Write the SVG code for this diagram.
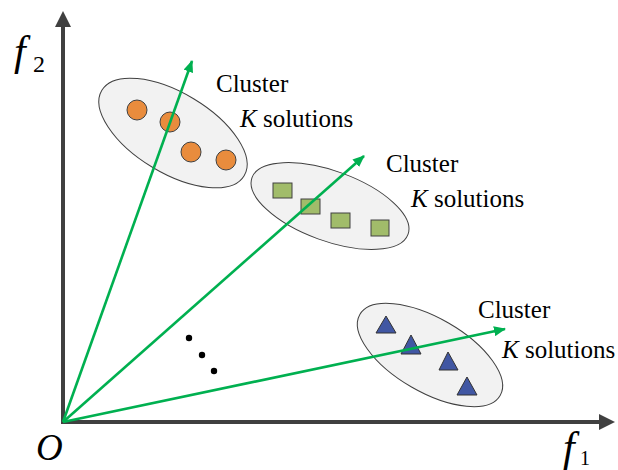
<svg xmlns="http://www.w3.org/2000/svg" width="618" height="470" viewBox="0 0 618 470">
<style>
.ax{stroke:#404040;stroke-width:4;fill:none}
.axh{fill:#404040}
.g{stroke:#00B050;stroke-width:2.6;fill:none}
.ell{fill:#F2F2F2;stroke:#404040;stroke-width:1}
.c{fill:#E98C3D;stroke:#404040;stroke-width:1}
.s{fill:#A1BC6A;stroke:#404040;stroke-width:1}
.t{fill:#4157A3;stroke:#333;stroke-width:1}
text{font-family:'Liberation Serif','Times New Roman','DejaVu Serif',serif;fill:#000}
.lbl{font-size:25px}
.it{font-style:italic}
</style>
<defs>
<marker id="ga" markerWidth="12" markerHeight="10" refX="11" refY="5" orient="auto" markerUnits="userSpaceOnUse">
<path d="M0,0 L12,5 L0,10 Z" fill="#00B050"/>
</marker>
</defs>
<g id="axes">
<line class="ax" x1="63" y1="424" x2="63" y2="24"/>
<path class="axh" d="M63,11 L71,27 L55,27 Z"/>
<line class="ax" x1="61" y1="422" x2="602" y2="422"/>
<path class="axh" d="M615,422 L599,414 L599,430 Z"/>
</g>
<g id="cluster1">
<ellipse class="ell" cx="173" cy="133" rx="83" ry="40" transform="rotate(31 173 133)"/>
<circle class="c" cx="137" cy="110" r="10"/>
<circle class="c" cx="170" cy="122" r="10"/>
<circle class="c" cx="191" cy="152" r="10"/>
<circle class="c" cx="226" cy="160" r="10"/>
</g>
<g id="cluster2">
<ellipse class="ell" cx="330" cy="206" rx="83" ry="35" transform="rotate(20 330 206)"/>
<rect class="s" x="273" y="183" width="19" height="15"/>
<rect class="s" x="301" y="199" width="19" height="15"/>
<rect class="s" x="331" y="213" width="19" height="15"/>
<rect class="s" x="371" y="220" width="18" height="16"/>
</g>
<g id="cluster3">
<ellipse class="ell" cx="430" cy="355" rx="81" ry="37" transform="rotate(30 430 355)"/>
<path class="t" d="M386,316 L396,333 L376,333 Z"/>
<path class="t" d="M411,335 L421,354 L401,354 Z"/>
<path class="t" d="M448,352 L458,370 L439,370 Z"/>
<path class="t" d="M467,377 L477,395 L457,395 Z"/>
</g>
<g id="connectors">
<line class="g" x1="63" y1="422" x2="192" y2="61" marker-end="url(#ga)"/>
<line class="g" x1="63" y1="422" x2="364" y2="156" marker-end="url(#ga)"/>
<line class="g" x1="63" y1="422" x2="505" y2="329" marker-end="url(#ga)"/>
</g>
<g id="dots">
<circle cx="189" cy="338" r="3.2" fill="#000"/>
<circle cx="202" cy="355" r="3.2" fill="#000"/>
<circle cx="214" cy="371" r="3.2" fill="#000"/>
</g>
<g id="labels">
<text class="lbl" x="216" y="92">Cluster</text>
<text class="lbl" x="240" y="127"><tspan class="it">K</tspan> solutions</text>
<text class="lbl" x="386" y="172">Cluster</text>
<text class="lbl" x="411" y="207"><tspan class="it">K</tspan> solutions</text>
<text class="lbl" x="478" y="318">Cluster</text>
<text class="lbl" x="502" y="358"><tspan class="it">K</tspan> solutions</text>
<text x="14" y="65" font-size="42" class="it">f</text>
<text x="33" y="72" font-size="24">2</text>
<text x="36" y="460" font-size="37" class="it">O</text>
<text x="563" y="461" font-size="42" class="it">f</text>
<text x="580" y="465" font-size="20">1</text>
</g>
</svg>
